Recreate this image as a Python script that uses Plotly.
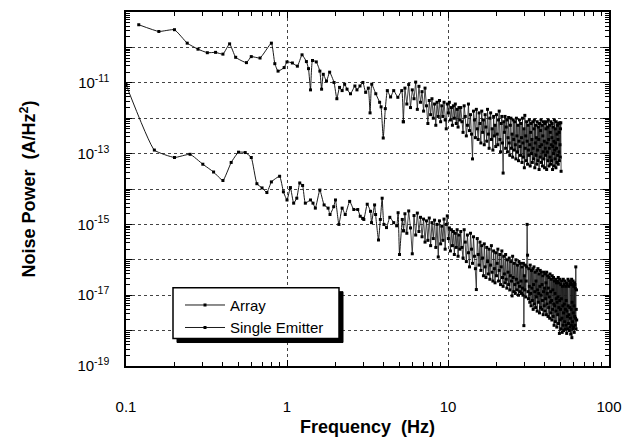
import numpy as np
import plotly.graph_objects as go

# ---------------- data (power in A/Hz^2 stored as log10 values) ----------------
array_freq_low = [0.12, 0.16, 0.20, 0.24, 0.28, 0.32, 0.36, 0.40, 0.44, 0.48,
                  0.56, 0.60, 0.68, 0.80, 0.84, 0.88, 0.96, 1.00, 1.08, 1.16,
                  1.24, 1.32, 1.36, 1.40, 1.44, 1.52, 1.60, 1.64, 1.68, 1.76,
                  1.84, 1.96, 2.04, 2.12, 2.20, 2.28, 2.36, 2.48, 2.64, 2.72,
                  2.84, 2.96, 3.08, 3.20, 3.28, 3.36, 3.56, 3.76, 3.84, 3.96,
                  4.08, 4.20, 4.40, 4.60, 4.88, 5.16, 5.28]
array_log_low = [-9.36, -9.55, -9.50, -9.88, -10.05, -10.15, -10.14, -10.19, -9.90, -10.28,
                 -10.43, -10.26, -10.30, -9.88, -10.46, -10.67, -10.57, -10.41, -10.44, -10.53,
                 -10.21, -10.40, -10.60, -11.20, -10.37, -10.41, -10.67, -11.18, -10.76, -10.95,
                 -10.70, -10.99, -11.45, -11.13, -11.22, -11.04, -11.18, -11.31, -11.09, -11.20,
                 -11.09, -10.99, -11.27, -11.15, -11.85, -11.04, -11.31, -11.55, -11.68, -12.56,
                 -11.73, -11.22, -11.40, -11.22, -11.41, -11.22, -12.10]
# from 5.40 Hz, 0.15 Hz spacing
array_log_mid = [-11.15, -11.60, -11.05, -11.70, -11.20, -11.45, -10.98, -11.75, -11.10, -11.55,
                 -11.25, -11.80, -11.15, -11.65, -12.15, -11.50, -11.90, -11.45, -12.00, -11.60,
                 -12.20, -11.55, -11.95, -11.50, -12.10, -11.65, -11.95, -11.55, -12.05, -12.30,
                 -11.60, -11.85, -11.55, -12.05, -11.70, -12.20, -11.65, -12.00, -11.60, -12.15,
                 -11.75, -12.25, -11.70, -12.05]
# from 12.0 Hz, 0.2 Hz spacing
array_log_high = [-11.70, -12.10, -12.40, -11.65, -11.95, -12.50, -12.20, -11.60, -12.35, -11.90,
                  -12.45, -13.15, -11.80, -12.05, -12.55, -11.75, -12.30, -12.60, -11.85, -12.15,
                  -12.70, -11.80, -12.40, -12.05, -12.75, -11.90, -12.25, -12.65, -11.75, -12.45,
                  -12.85, -12.00, -11.85, -12.60, -12.30, -12.90, -11.95, -12.50, -12.20, -12.80,
                  -11.90, -12.45, -12.75, -12.05, -11.80, -12.60, -12.95, -12.15, -11.95, -12.70,
                  -13.55, -12.10, -12.40, -11.95, -12.85, -12.25, -12.05, -12.95, -12.55, -11.98,
                  -12.70, -13.05, -12.20, -12.00, -12.85, -12.45, -13.10, -12.05, -12.60, -12.90,
                  -12.10, -12.75, -13.15, -12.00, -12.50, -12.95, -12.20, -13.20, -12.65, -12.05,
                  -12.80, -13.05, -12.15, -12.55, -13.25, -12.00, -12.70, -13.10, -12.30, -13.40,
                  -11.92, -12.85, -12.50, -13.20, -12.10, -12.65, -13.30, -12.20, -12.90, -13.05,
                  -12.05, -12.75, -13.35, -12.40, -12.15, -13.00, -12.60, -13.25, -12.10, -12.85,
                  -13.15, -12.30, -12.05, -13.40, -12.70, -12.20, -13.05, -12.55, -13.30, -12.10,
                  -12.90, -13.20, -12.25, -12.60, -13.45, -12.15, -12.80, -13.10, -12.35, -12.05,
                  -13.25, -12.75, -12.20, -13.35, -12.50, -12.95, -12.10, -13.15, -12.65, -13.40,
                  -12.15, -12.85, -13.05, -12.30, -12.10, -13.45, -12.70, -12.95, -12.25, -13.20,
                  -12.05, -12.60, -13.35, -12.85, -12.20, -13.10, -12.40, -13.30, -12.10, -12.75,
                  -13.20, -12.55, -12.15, -13.45, -12.80, -12.25, -13.00, -12.65, -13.35, -12.05,
                  -12.90, -13.15, -12.30, -12.70, -13.40, -12.10, -12.85, -13.25, -12.45, -12.20,
                  -13.05, -12.60, -13.30, -12.15, -12.95, -12.40, -13.20, -12.13, -12.75, -13.10,
                  -12.30, -12.13, -13.50]

se_freq_low = [0.10, 0.15, 0.20, 0.25, 0.30, 0.35, 0.40, 0.45, 0.50, 0.55,
               0.60, 0.65, 0.70, 0.75, 0.80, 0.90, 0.95, 1.00, 1.05, 1.10,
               1.15, 1.20, 1.25, 1.30, 1.40, 1.45, 1.50, 1.60, 1.70, 1.80,
               1.85, 1.95, 2.00, 2.10, 2.20, 2.30, 2.45, 2.60, 2.75, 2.85,
               2.95, 3.00, 3.15, 3.30, 3.35, 3.50, 3.55, 3.70, 3.80, 3.90,
               4.00, 4.15, 4.35, 4.60, 4.80, 4.90, 5.00, 5.20, 5.30]
se_log_low = [-11.05, -12.90, -13.11, -13.02, -13.30, -13.52, -13.76, -13.25, -12.96, -12.97,
              -13.11, -13.85, -13.97, -14.10, -13.80, -13.64, -14.08, -14.31, -13.96, -14.40,
              -14.26, -13.83, -13.90, -14.40, -14.31, -14.40, -14.54, -14.03, -14.45, -14.54,
              -14.72, -14.50, -14.31, -15.00, -14.54, -14.72, -14.35, -14.58, -14.58, -14.77,
              -14.83, -14.86, -14.43, -14.63, -14.95, -14.45, -14.72, -15.44, -14.86, -14.26,
              -15.00, -15.09, -14.80, -14.95, -15.04, -14.67, -15.85, -14.86, -15.18]
# from 5.40 Hz, 0.15 Hz spacing
se_log_mid = [-14.70, -15.25, -14.62, -15.10, -15.83, -14.75, -15.30, -14.68, -15.20, -14.80,
              -15.35, -14.85, -15.50, -14.90, -15.45, -14.82, -15.60, -14.95, -15.40, -14.88,
              -15.65, -15.00, -15.92, -14.90, -15.55, -15.05, -15.45, -14.85, -15.70, -15.00,
              -14.76, -15.40, -15.10, -15.75, -15.15, -15.60, -15.20, -15.85, -15.25, -15.65,
              -15.15, -15.90, -15.30, -15.70]
# from 12.0 Hz, 0.2 Hz spacing
se_log_high = [-15.20, -15.65, -15.95, -15.15, -15.50, -16.05, -15.30, -15.80, -16.20, -15.25,
               -15.70, -16.10, -15.35, -15.90, -16.25, -16.84, -15.40, -15.85, -16.15, -15.50,
               -16.30, -15.60, -15.95, -16.45, -15.55, -16.20, -16.50, -15.65, -16.05, -16.40,
               -15.70, -16.55, -16.15, -15.60, -16.35, -16.60, -15.75, -16.25, -16.65, -15.80,
               -16.45, -16.10, -15.70, -16.60, -16.30, -15.85, -16.70, -16.20, -15.75, -16.50,
               -16.75, -15.90, -16.40, -16.65, -15.85, -16.55, -16.80, -16.00, -16.35, -16.70,
               -15.95, -16.85, -16.45, -16.05, -16.60, -17.02, -15.90, -16.50, -16.90, -16.10,
               -16.70, -16.95, -16.00, -16.55, -16.85, -16.15, -16.65, -17.00, -16.05, -16.75,
               -16.90, -16.10, -16.60, -16.95, -16.20, -16.80, -17.00, -16.10, -17.86, -16.45,
               -16.85, -16.15, -17.05, -16.60, -16.20, -15.00, -15.87, -16.90, -17.10, -16.25,
               -16.75, -17.20, -16.15, -16.95, -17.30, -16.30, -16.80, -17.15, -16.25, -17.40,
               -16.70, -16.20, -17.25, -16.90, -16.35, -17.35, -16.60, -17.05, -16.30, -17.45,
               -16.85, -16.25, -17.20, -16.95, -16.40, -17.50, -16.75, -16.30, -17.35, -17.00,
               -16.35, -17.40, -16.70, -17.15, -16.45, -17.55, -16.90, -16.35, -17.30, -16.80,
               -17.45, -16.40, -17.10, -16.65, -17.55, -16.35, -17.25, -16.95, -16.45, -17.60,
               -16.80, -17.35, -16.50, -17.05, -17.65, -16.40, -17.20, -16.90, -17.50, -16.55,
               -17.15, -17.70, -16.45, -17.40, -16.85, -17.60, -16.50, -17.25, -17.85, -16.60,
               -17.30, -16.95, -17.75, -16.55, -17.45, -17.10, -16.65, -17.90, -17.20, -16.60,
               -17.55, -17.05, -16.50, -17.80, -17.35, -16.65, -18.08, -17.15, -16.55, -17.70,
               -17.40, -16.70, -17.95, -17.10, -16.60, -17.65, -18.05, -16.75, -17.30, -17.85,
               -16.55, -17.50, -18.00, -16.70, -17.25, -17.75, -16.60, -17.95, -17.40, -16.75,
               -17.85, -17.15, -16.65, -18.08, -17.45, -16.70, -17.60, -17.95, -16.55, -17.30,
               -17.80, -16.75, -17.55, -18.00, -16.60, -17.35, -17.90, -16.70, -17.65, -18.10,
               -16.65, -17.40, -17.85, -16.55, -18.20, -17.20, -16.70, -17.75, -17.95, -16.60,
               -17.50, -17.90, -16.75, -17.30, -18.05, -16.65, -17.60, -16.70, -17.85, -16.80,
               -17.65, -16.20, -17.95, -17.40, -16.85, -17.70]

y_tick_exponents = [-19, -18, -17, -16, -15, -14, -13, -12, -11, -10, -9]
x_tick_values = [0.1, 1, 10, 100]
x_tick_labels = ["0.1", "1", "10", "100"]
series_names = ["Array", "Single Emitter"]


def build(freq_low, log_low, log_mid, log_high):
    n = min(len(freq_low), len(log_low))
    f_low = np.array(freq_low[:n], dtype=float)
    p_low = 10.0 ** np.array(log_low[:n], dtype=float)
    f_hi = np.concatenate([
        np.round(5.40 + 0.15 * np.arange(len(log_mid)), 3),
        np.round(12.0 + 0.2 * np.arange(len(log_high)), 3),
    ])
    p_hi = 10.0 ** np.array(list(log_mid) + list(log_high), dtype=float)
    # join the two segments at the last low-frequency point
    f_hi = np.concatenate([[f_low[-1]], f_hi])
    p_hi = np.concatenate([[p_low[-1]], p_hi])
    return f_low, p_low, f_hi, p_hi


FONT = "Liberation Sans, Arial, Helvetica, sans-serif"

fig = go.Figure()
for name, parts in [(series_names[0], build(array_freq_low, array_log_low, array_log_mid, array_log_high)),
                    (series_names[1], build(se_freq_low, se_log_low, se_log_mid, se_log_high))]:
    f_low, p_low, f_hi, p_hi = parts
    fig.add_trace(go.Scatter(
        x=f_low, y=p_low, name=name, legendgroup=name, mode="lines+markers",
        line=dict(color="black", width=0.9, shape="spline", smoothing=0.4),
        marker=dict(symbol="square", size=3, color="black"),
    ))
    fig.add_trace(go.Scatter(
        x=f_hi, y=p_hi, name=name, legendgroup=name, showlegend=False, mode="lines+markers",
        line=dict(color="#1a1a1a", width=0.8),
        marker=dict(symbol="square", size=3, color="black"),
    ))

y_tickvals = [10.0 ** e for e in y_tick_exponents]
y_ticktext = [("10<sup>%d</sup>" % e) if (e % 2 != 0 and e != -9) else "" for e in y_tick_exponents]
y_minor = [k * 10.0 ** e for e in y_tick_exponents[:-1] for k in range(2, 10)]
x_minor = [k * 10.0 ** e for e in (-1, 0, 1) for k in range(2, 10)]

# legend frame with drop shadow (paper coordinates)
PW, PH = 483.0, 362.0
bx0, bx1, by0, by1 = 47 / PW, 213 / PW, 28 / PH, 80 / PH
sh = 4.0
shapes = [
    dict(type="rect", xref="paper", yref="paper", layer="above",
         x0=bx0 + sh / PW, x1=bx1 + sh / PW, y0=by0 - sh / PH, y1=by1 - sh / PH,
         fillcolor="black", line=dict(color="black", width=1)),
    dict(type="rect", xref="paper", yref="paper", layer="above",
         x0=bx0, x1=bx1, y0=by0, y1=by1,
         fillcolor="white", line=dict(color="black", width=1.5)),
]

fig.update_layout(
    width=626, height=429,
    margin=dict(l=118, r=25, t=2, b=65),
    paper_bgcolor="white", plot_bgcolor="white",
    font=dict(family=FONT, color="black", size=15),
    showlegend=True,
    shapes=shapes,
    legend=dict(
        x=54 / PW, y=79 / PH, xanchor="left", yanchor="top",
        bgcolor="rgba(0,0,0,0)", borderwidth=0,
        font=dict(family=FONT, size=15, color="black"),
        itemwidth=40, tracegroupgap=0,
    ),
)

fig.update_xaxes(
    type="log", range=[-1, 2],
    tickmode="array", tickvals=x_tick_values, ticktext=x_tick_labels,
    ticks="inside", ticklen=6, tickwidth=1, tickcolor="black",
    showline=True, linecolor="black", linewidth=1.5, mirror="allticks",
    showgrid=True, gridcolor="#444", gridwidth=1, griddash="dot",
    minor=dict(tickmode="array", tickvals=x_minor, ticks="inside", ticklen=4,
               tickcolor="black", showgrid=False),
    tickfont=dict(size=15), ticklabelstandoff=26,
    title=dict(text="<b>Frequency  (Hz)</b>", font=dict(size=18), standoff=8),
    zeroline=False,
)
fig.update_yaxes(
    type="log", range=[-19, -9],
    tickmode="array", tickvals=y_tickvals, ticktext=y_ticktext,
    ticks="inside", ticklen=6, tickwidth=1, tickcolor="black",
    showline=True, linecolor="black", linewidth=1.5, mirror="allticks",
    showgrid=True, gridcolor="#444", gridwidth=1, griddash="dot",
    minor=dict(tickmode="array", tickvals=y_minor, ticks="inside", ticklen=4,
               tickcolor="black", showgrid=False),
    tickfont=dict(size=15), ticklabelstandoff=12,
    title=dict(text="<b>Noise Power  (A/Hz<sup>2</sup>)</b>", font=dict(size=18), standoff=37),
    zeroline=False,
)

fig.write_html("out.html")
